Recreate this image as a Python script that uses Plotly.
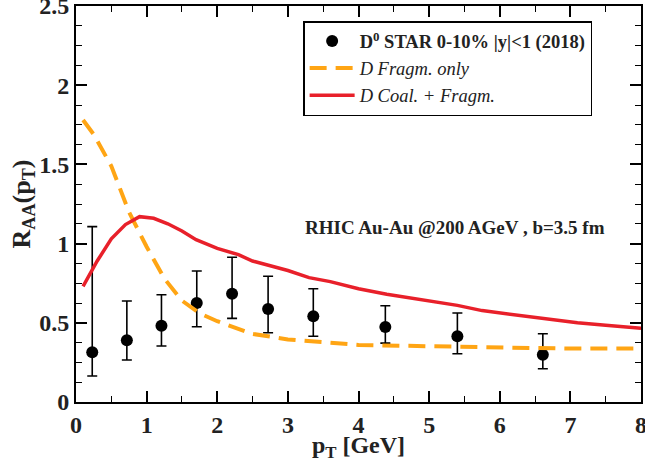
import plotly.graph_objects as go

# STAR D0 data
pt_data = [0.23, 0.72, 1.21, 1.71, 2.21, 2.72, 3.36, 4.38, 5.40, 6.61]
raa_data = [0.314, 0.390, 0.482, 0.625, 0.684, 0.587, 0.541, 0.473, 0.415, 0.299]
err_plus = [0.793, 0.248, 0.195, 0.202, 0.230, 0.207, 0.174, 0.135, 0.147, 0.132]
err_minus = [0.150, 0.125, 0.128, 0.150, 0.156, 0.150, 0.126, 0.101, 0.110, 0.089]

# D Fragm. only
pt_frag = [0.1, 0.25, 0.5, 0.75, 1.0, 1.25, 1.5, 1.75, 2.0, 2.5, 3.0, 3.5, 4.0, 5.0, 6.0, 7.0, 8.0]
raa_frag = [1.78, 1.69, 1.49, 1.20, 0.98, 0.78, 0.64, 0.56, 0.51, 0.43, 0.395, 0.375, 0.36, 0.352, 0.343, 0.337, 0.337]

# D Coal. + Fragm.
pt_coal = [0.1, 0.3, 0.5, 0.7, 0.9, 1.1, 1.3, 1.5, 1.7, 2.0, 2.3, 2.5, 3.0, 3.3, 3.6, 4.0, 4.4,
           4.7, 5.0, 5.4, 5.75, 6.3, 6.6, 7.1, 7.5, 8.0]
raa_coal = [0.73, 0.89, 1.03, 1.12, 1.17, 1.16, 1.125, 1.08, 1.025, 0.97, 0.93, 0.89, 0.83, 0.785,
            0.76, 0.715, 0.68, 0.66, 0.635, 0.61, 0.577, 0.546, 0.527, 0.50, 0.485, 0.466]

FONT = "Liberation Serif"
TXT = "#222"

fig = go.Figure()
fig.add_trace(go.Scatter(
    x=pt_data, y=raa_data, mode="markers",
    name="<b>D<sup>0</sup> STAR 0-10% |y|<1 (2018)</b>",
    marker=dict(symbol="circle", size=12, color="black"),
    error_y=dict(type="data", symmetric=False, array=err_plus, arrayminus=err_minus,
                 color="black", thickness=1.6, width=5),
))
fig.add_trace(go.Scatter(
    x=pt_frag, y=raa_frag, mode="lines", name="<i>D Fragm. only</i>",
    line=dict(color="#FFA514", width=4, dash="17px,9px"),
))
fig.add_trace(go.Scatter(
    x=pt_coal, y=raa_coal, mode="lines", name="<i>D Coal. + Fragm.</i>",
    line=dict(color="#E8202A", width=3.5),
))

axis_common = dict(
    showline=True, linecolor="black", linewidth=2, mirror="ticks",
    ticks="inside", ticklen=11, tickwidth=1.6, tickcolor="black",
    showgrid=False, zeroline=False, automargin=False,
    ticklabeloverflow="allow",
    tickfont=dict(family=FONT, size=24, color=TXT, weight="bold"),
)

fig.update_xaxes(
    range=[0, 8], dtick=1, tick0=0,
    minor=dict(dtick=0.5, ticks="inside", ticklen=6, tickwidth=1.4, tickcolor="black"),
    title=dict(text="p<sub>T</sub> [GeV]", font=dict(family=FONT, size=24, color=TXT, weight="bold"),
               standoff=0),
    **axis_common,
)
fig.update_yaxes(
    range=[0, 2.5], dtick=0.5, tick0=0,
    minor=dict(dtick=0.125, ticks="inside", ticklen=6, tickwidth=1.4, tickcolor="black"),
    title=dict(text="R<sub>AA</sub>(p<sub>T</sub>)", font=dict(family=FONT, size=26, color=TXT, weight="bold"),
               standoff=0),
    **axis_common,
)

fig.add_annotation(
    x=3.215, y=1.10, xref="x", yref="y", xanchor="left", yanchor="middle",
    text="<b>RHIC Au-Au @200 AGeV , b=3.5 fm</b>", showarrow=False,
    font=dict(family=FONT, size=19, color=TXT),
)

fig.update_layout(
    width=645, height=462,
    margin=dict(l=76, r=4, t=6, b=60),
    paper_bgcolor="white", plot_bgcolor="white",
    font=dict(family=FONT, color=TXT),
    legend=dict(
        x=0.402, y=0.962, xanchor="left", yanchor="top",
        bgcolor="white", bordercolor="black", borderwidth=1.5,
        font=dict(family=FONT, size=18.5, color=TXT),
        itemwidth=45, tracegroupgap=0,
    ),
    showlegend=True,
)

fig.write_html("out.html", config={"displayModeBar": False},
               post_script="document.body.style.margin='0px';")
